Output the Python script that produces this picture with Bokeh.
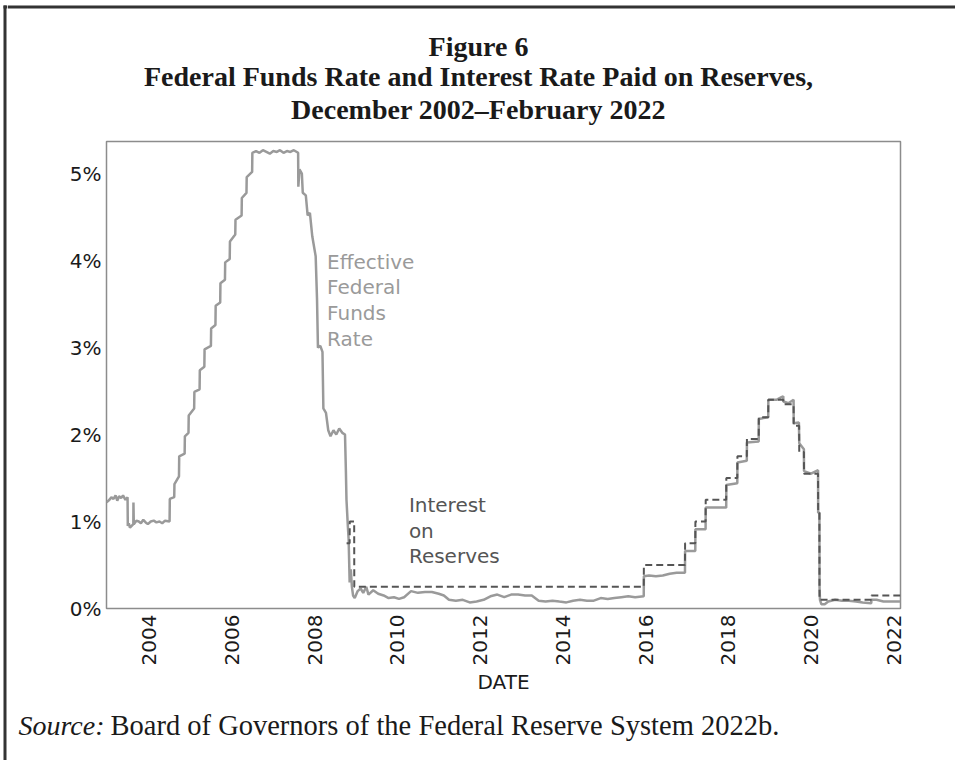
import math
import pandas as pd
from bokeh.plotting import figure
from bokeh.layouts import row, column
from bokeh.models import Range1d, FixedTicker, DatetimeTickFormatter, Label, ColumnDataSource
from bokeh.embed import file_html
from bokeh.resources import INLINE

# ---------------- data ----------------
effr_dates = [
    "2002-12-20", "2003-01-15", "2003-02-01", "2003-02-20", "2003-03-10", "2003-03-25",
    "2003-04-10", "2003-04-28", "2003-05-15", "2003-06-05", "2003-06-24", "2003-06-26",
    "2003-07-05", "2003-07-15", "2003-08-14", "2003-08-15", "2003-08-18", "2003-09-10",
    "2003-10-01", "2003-10-20", "2003-11-10", "2003-12-01", "2003-12-20", "2004-01-15",
    "2004-02-10", "2004-03-05", "2004-04-01", "2004-04-25", "2004-05-20", "2004-06-29",
    "2004-07-01", "2004-08-09", "2004-08-11", "2004-09-20", "2004-09-22", "2004-11-09",
    "2004-11-11", "2004-12-13", "2004-12-15", "2005-02-01", "2005-02-03", "2005-03-21",
    "2005-03-23", "2005-05-02", "2005-05-04", "2005-06-29", "2005-07-01", "2005-08-08",
    "2005-08-10", "2005-09-19", "2005-09-21", "2005-10-31", "2005-11-02", "2005-12-12",
    "2005-12-14", "2006-01-30", "2006-02-01", "2006-03-27", "2006-03-29", "2006-05-09",
    "2006-05-11", "2006-06-28", "2006-06-30", "2006-08-01", "2006-09-01", "2006-10-01",
    "2006-11-01", "2006-12-01", "2007-01-01", "2007-02-01", "2007-03-01", "2007-04-01",
    "2007-05-01", "2007-06-01", "2007-07-01", "2007-08-08", "2007-08-10", "2007-08-20",
    "2007-09-10", "2007-09-18", "2007-10-15", "2007-10-31", "2007-11-20", "2007-12-11",
    "2008-01-10", "2008-01-22", "2008-01-30", "2008-02-20", "2008-03-10", "2008-03-18",
    "2008-04-10", "2008-04-30", "2008-05-20", "2008-06-15", "2008-07-10", "2008-08-05",
    "2008-09-01", "2008-09-25", "2008-10-03", "2008-10-08", "2008-10-20", "2008-10-27",
    "2008-11-05", "2008-11-15", "2008-11-25", "2008-12-05", "2008-12-20", "2009-01-15",
    "2009-02-10", "2009-03-05", "2009-04-01", "2009-04-20", "2009-06-01", "2009-07-15",
    "2009-09-01", "2009-10-15", "2009-12-01", "2010-01-15", "2010-03-01", "2010-05-01",
    "2010-07-01", "2010-09-01", "2010-11-01", "2011-01-01", "2011-02-15", "2011-04-01",
    "2011-06-01", "2011-08-01", "2011-10-01", "2011-12-01", "2012-02-01", "2012-04-01",
    "2012-06-01", "2012-08-01", "2012-10-01", "2012-12-01", "2013-02-01", "2013-04-01",
    "2013-06-01", "2013-08-01", "2013-10-01", "2013-12-01", "2014-02-01", "2014-04-01",
    "2014-06-01", "2014-08-01", "2014-10-01", "2014-12-01", "2015-02-01", "2015-04-01",
    "2015-06-01", "2015-08-01", "2015-10-01", "2015-12-16", "2015-12-17", "2016-02-01",
    "2016-04-01", "2016-06-01", "2016-08-01", "2016-10-01", "2016-12-14", "2016-12-15",
    "2017-03-15", "2017-03-16", "2017-06-14", "2017-06-15", "2017-09-01", "2017-12-13",
    "2017-12-14", "2018-03-21", "2018-03-22", "2018-06-13", "2018-06-14", "2018-09-26",
    "2018-09-27", "2018-12-19", "2018-12-20", "2019-03-01", "2019-04-15", "2019-05-01",
    "2019-05-02", "2019-06-15", "2019-07-31", "2019-08-01", "2019-09-16",
    "2019-09-19", "2019-10-30", "2019-10-31", "2020-01-01", "2020-02-15", "2020-03-03",
    "2020-03-04", "2020-03-15", "2020-03-16", "2020-03-20", "2020-04-01", "2020-05-01",
    "2020-06-01", "2020-08-01", "2020-10-01", "2020-12-01", "2021-02-01", "2021-04-01",
    "2021-06-16", "2021-06-17", "2021-08-01", "2021-10-01", "2021-12-01", "2022-02-28",
]
effr_values = [
    1.22, 1.25, 1.28, 1.26, 1.30, 1.24,
    1.29, 1.27, 1.30, 1.25, 1.28, 0.95,
    0.98, 0.93, 0.97, 1.22, 0.97, 1.01,
    1.00, 0.98, 1.02, 0.99, 0.97, 1.00,
    1.01, 0.99, 1.00, 0.98, 1.01, 1.00,
    1.26, 1.28, 1.43, 1.52, 1.75, 1.78,
    1.98, 2.02, 2.22, 2.30, 2.49, 2.52,
    2.74, 2.78, 2.98, 3.02, 3.22, 3.26,
    3.48, 3.52, 3.74, 3.78, 3.98, 4.02,
    4.22, 4.30, 4.47, 4.52, 4.72, 4.78,
    4.96, 5.02, 5.24, 5.26, 5.24, 5.27,
    5.25, 5.23, 5.26, 5.25, 5.27, 5.24,
    5.26, 5.25, 5.27, 5.24, 4.85, 5.05,
    5.00, 4.78, 4.75, 4.52, 4.55, 4.28,
    4.05, 3.55, 3.00, 3.02, 2.95, 2.30,
    2.25, 2.05, 1.98, 2.05, 2.00, 2.07,
    2.02, 2.00, 1.57, 1.25, 0.95, 0.80,
    0.30, 0.45, 0.25, 0.15, 0.12, 0.20,
    0.23, 0.18, 0.25, 0.16, 0.21, 0.17,
    0.15, 0.12, 0.13, 0.11, 0.13, 0.20,
    0.18, 0.19, 0.19, 0.17, 0.15, 0.10,
    0.09, 0.10, 0.07, 0.08, 0.10, 0.14,
    0.16, 0.13, 0.16, 0.16, 0.15, 0.15,
    0.09, 0.08, 0.09, 0.08, 0.07, 0.09,
    0.10, 0.09, 0.09, 0.12, 0.11, 0.12,
    0.13, 0.14, 0.13, 0.14, 0.37, 0.38,
    0.37, 0.38, 0.40, 0.41, 0.41, 0.66,
    0.66, 0.91, 0.91, 1.16, 1.16, 1.16,
    1.42, 1.44, 1.68, 1.70, 1.91, 1.92,
    2.18, 2.20, 2.40, 2.40, 2.43, 2.44,
    2.38, 2.36, 2.40, 2.13, 2.14,
    1.90, 1.83, 1.58, 1.55, 1.58, 1.59,
    1.10, 1.10, 0.25, 0.10, 0.05, 0.05,
    0.08, 0.10, 0.09, 0.09, 0.08, 0.07,
    0.06, 0.10, 0.10, 0.08, 0.08, 0.08,
]

ior_dates = [
    "2008-10-09", "2008-11-05", "2008-11-06", "2008-12-15", "2008-12-16", "2015-12-16",
    "2015-12-17", "2016-12-14", "2016-12-15", "2017-03-15", "2017-03-16", "2017-06-14",
    "2017-06-15", "2017-12-13", "2017-12-14", "2018-03-21", "2018-03-22", "2018-06-13",
    "2018-06-14", "2018-09-26", "2018-09-27", "2018-12-19", "2018-12-20", "2019-05-01",
    "2019-05-02", "2019-07-31", "2019-08-01", "2019-09-18", "2019-09-19", "2019-10-30",
    "2019-10-31", "2020-03-03", "2020-03-04", "2020-03-15", "2020-03-16", "2021-06-16",
    "2021-06-17", "2022-02-28",
]
ior_values = [
    0.75, 0.75, 1.00, 1.00, 0.25, 0.25,
    0.50, 0.50, 0.75, 0.75, 1.00, 1.00,
    1.25, 1.25, 1.50, 1.50, 1.75, 1.75,
    1.95, 1.95, 2.20, 2.20, 2.40, 2.40,
    2.35, 2.35, 2.10, 2.10, 1.80, 1.80,
    1.55, 1.55, 1.10, 1.10, 0.10, 0.10,
    0.15, 0.15,
]

y_ticks = [0, 1, 2, 3, 4, 5]
y_tick_labels = ["0%", "1%", "2%", "3%", "4%", "5%"]
x_tick_years = [2004, 2006, 2008, 2010, 2012, 2014, 2016, 2018, 2020, 2022]

title_lines = [
    "Figure 6",
    "Federal Funds Rate and Interest Rate Paid on Reserves,",
    "December 2002\u2013February 2022",
]
effr_label_lines = ["Effective", "Federal", "Funds", "Rate"]
ior_label_lines = ["Interest", "on", "Reserves"]
source_lead = "Source:"
source_text = "Board of Governors of the Federal Reserve System 2022b."

SERIF = "Liberation Serif"
SANS = "DejaVu Sans"
INK = "#1a1a1a"
FRAME_INK = "#333333"


def blank(w, h):
    f = figure(width=w, height=h, output_backend="svg", toolbar_location=None,
               x_axis_location=None, y_axis_location=None,
               x_range=Range1d(0, w), y_range=Range1d(0, h), min_border=0)
    f.frame_align = False
    f.outline_line_color = None
    f.xgrid.visible = False
    f.ygrid.visible = False
    f.background_fill_color = "white"
    f.border_fill_color = "white"
    return f


STRIP_W, COL_W = 7, 948
HEAD_H, MAIN_H, FOOT_H = 128, 580, 52
TOTAL_H = HEAD_H + MAIN_H + FOOT_H

# left border strip of the boxed figure
strip = blank(STRIP_W, TOTAL_H)
strip.quad(left=[3, 3], right=[6, 7], bottom=[0, TOTAL_H - 8], top=[TOTAL_H - 5, TOTAL_H - 5],
           fill_color=FRAME_INK, line_color=None)

# header with the title
head = blank(COL_W, HEAD_H)
head.quad(left=[0], right=[COL_W], bottom=[HEAD_H - 8], top=[HEAD_H - 5],
          fill_color=FRAME_INK, line_color=None)
for t, yb in zip(title_lines, [82, 52, 19]):
    head.add_layout(Label(x=471, y=yb, text=t, text_font=SERIF, text_font_style="bold",
                          text_font_size="28px", text_color=INK,
                          text_align="center", text_baseline="alphabetic"))

# footer with the source note
foot = blank(COL_W, FOOT_H)
foot.add_layout(Label(x=11, y=35, text=source_lead, text_font=SERIF, text_font_style="italic",
                      text_font_size="28px", text_color=INK, text_baseline="alphabetic"))
foot.add_layout(Label(x=103, y=35, text=source_text, text_font=SERIF,
                      text_font_size="28.5px", text_color=INK, text_baseline="alphabetic"))

# ---------------- main chart ----------------
effr_src = ColumnDataSource(dict(x=pd.to_datetime(effr_dates), y=effr_values))
ior_src = ColumnDataSource(dict(x=pd.to_datetime(ior_dates), y=ior_values))

p = figure(
    width=COL_W, height=MAIN_H, x_axis_type="datetime",
    output_backend="svg", toolbar_location=None,
    x_range=Range1d(pd.Timestamp("2002-12-20"), pd.Timestamp("2022-03-01")),
    y_range=Range1d(0, 5.37),
    min_border_left=99, min_border_right=55, min_border_top=13, min_border_bottom=100,
)
p.frame_align = False
p.background_fill_color = "white"
p.border_fill_color = "white"
p.outline_line_color = "#8c8c8c"
p.outline_line_width = 1.5
p.xgrid.visible = False
p.ygrid.visible = False

p.line("x", "y", source=effr_src, line_color="#9a9a9a", line_width=2.5)
p.line("x", "y", source=ior_src, line_color="#555555", line_width=2, line_dash="7 4")

xa = p.xaxis[0]
xa.ticker = FixedTicker(ticks=[pd.Timestamp(f"{y}-01-01").value // 10**6 for y in x_tick_years])
xa.formatter = DatetimeTickFormatter(years="%Y", months="%Y", days="%Y", hours="%Y")
xa.major_label_orientation = math.pi / 2
xa.axis_label = "DATE"
ya = p.yaxis[0]
ya.ticker = FixedTicker(ticks=y_ticks)
ya.major_label_overrides = {t: l for t, l in zip(y_ticks, y_tick_labels)}
for ax in (xa, ya):
    ax.axis_line_color = None
    ax.major_tick_out = 0
    ax.major_tick_in = 0
    ax.minor_tick_out = 0
    ax.minor_tick_in = 0
    ax.major_label_text_font = SANS
    ax.major_label_text_font_size = "20px"
    ax.major_label_text_color = INK
xa.major_label_standoff = 6
ya.major_label_standoff = 5
xa.axis_label_text_font = SANS
xa.axis_label_text_font_size = "20px"
xa.axis_label_text_font_style = "normal"
xa.axis_label_text_color = INK
xa.axis_label_standoff = 2

lab_x = pd.Timestamp("2008-04-20")
for i, t in enumerate(effr_label_lines):
    p.add_layout(Label(x=lab_x, y=3.986 - 0.294 * i, text=t, text_font=SANS,
                       text_font_size="20px", text_color="#9a9a9a", text_baseline="alphabetic"))
lab_x2 = pd.Timestamp("2010-04-12")
for i, t in enumerate(ior_label_lines):
    p.add_layout(Label(x=lab_x2, y=1.186 - 0.294 * i, text=t, text_font=SANS,
                       text_font_size="20px", text_color="#555555", text_baseline="alphabetic"))

layout = row(strip, column(head, p, foot, spacing=0), spacing=0)
open("out.html", "w").write(file_html(layout, INLINE))
